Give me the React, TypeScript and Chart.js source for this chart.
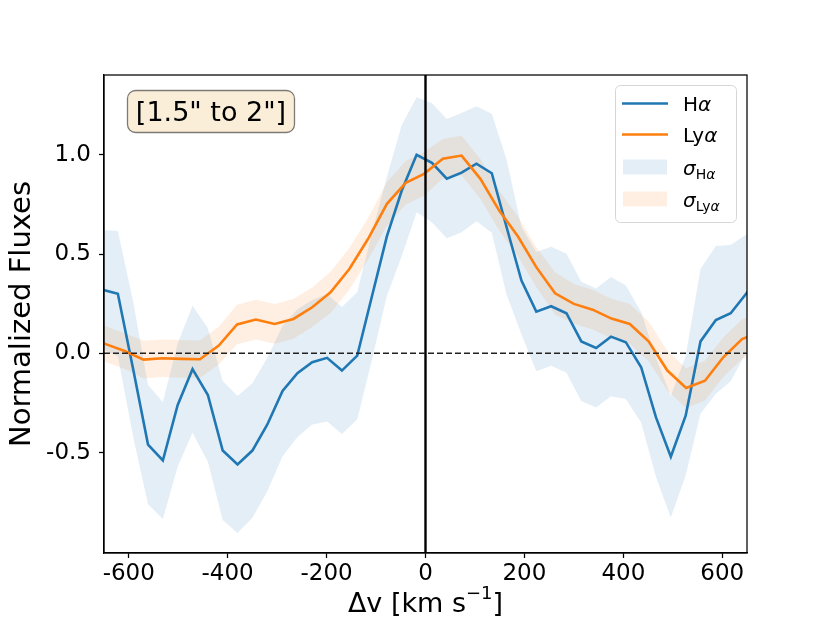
import { useEffect, useRef } from "react";
import { Chart, registerables } from "chart.js";

Chart.register(...registerables);

// H-alpha profile (velocity in km/s, normalized flux, 1-sigma)
const haVelocity = [-652, -622, -591, -561, -531, -501, -471, -440, -410, -380, -350, -320, -289, -259, -229, -199, -169, -138, -108, -78, -48, -18, 13, 43, 73, 103, 134, 164, 194, 224, 254, 285, 315, 345, 375, 405, 436, 466, 496, 526, 556, 587, 617, 647, 677];
const haFlux = [0.32, 0.3, -0.08, -0.46, -0.54, -0.26, -0.08, -0.21, -0.49, -0.56, -0.49, -0.36, -0.19, -0.1, -0.045, -0.023, -0.087, -0.012, 0.29, 0.59, 0.82, 1.0, 0.96, 0.88, 0.91, 0.955, 0.907, 0.635, 0.366, 0.21, 0.237, 0.202, 0.06, 0.027, 0.084, 0.056, -0.07, -0.323, -0.521, -0.314, 0.06, 0.168, 0.202, 0.296, 0.39];
const haSigma = [0.3, 0.316, 0.34, 0.3, 0.295, 0.31, 0.32, 0.336, 0.35, 0.345, 0.339, 0.336, 0.328, 0.322, 0.314, 0.32, 0.32, 0.32, 0.32, 0.3, 0.33, 0.29, 0.3, 0.3, 0.3, 0.29, 0.3, 0.34, 0.27, 0.3, 0.3, 0.3, 0.3, 0.3, 0.3, 0.286, 0.278, 0.3, 0.306, 0.3, 0.365, 0.372, 0.343, 0.3, 0.3];

// Lyman-alpha profile
const lyaVelocity = [-683, -645, -607, -570, -532, -494, -456, -418, -381, -343, -305, -267, -229, -192, -154, -116, -78, -40, -3, 35, 73, 111, 149, 187, 224, 262, 300, 338, 376, 413, 451, 489, 527, 565, 602, 640, 678];
const lyaFlux = [0.08, 0.045, 0.01, -0.032, -0.025, -0.028, -0.03, 0.039, 0.145, 0.17, 0.148, 0.173, 0.232, 0.307, 0.425, 0.577, 0.753, 0.859, 0.904, 0.98, 0.996, 0.879, 0.719, 0.588, 0.434, 0.302, 0.249, 0.22, 0.175, 0.148, 0.06, -0.087, -0.175, -0.138, -0.02, 0.072, 0.11];
const lyaSigma = [0.09, 0.09, 0.09, 0.095, 0.095, 0.095, 0.095, 0.095, 0.1, 0.1, 0.1, 0.1, 0.1, 0.104, 0.105, 0.105, 0.11, 0.11, 0.11, 0.1, 0.1, 0.1, 0.1, 0.1, 0.1, 0.106, 0.1, 0.1, 0.1, 0.1, 0.1, 0.1, 0.1, 0.1, 0.1, 0.1, 0.1];

const xTicks = [-600, -400, -200, 0, 200, 400, 600];
const yTicks = [-0.5, 0.0, 0.5, 1.0];
const xRange = [-650, 650];
const yRange = [-1.006, 1.402];
const apertureLabel = '[1.5" to 2"]';

const C0 = "#1f77b4";
const C1 = "#ff7f0e";
const C0_BAND = "rgba(31, 119, 180, 0.12)";
const C1_BAND = "rgba(255, 127, 14, 0.12)";
const FONT = '"DejaVu Sans", sans-serif';

type Run = { text: string; size: number; italic?: boolean; dy?: number };

function runsWidth(ctx: CanvasRenderingContext2D, runs: Run[]) {
  let w = 0;
  for (const r of runs) {
    ctx.font = `${r.italic ? "oblique " : ""}${r.size}px ${FONT}`;
    w += ctx.measureText(r.text).width;
  }
  return w;
}

function drawRuns(ctx: CanvasRenderingContext2D, runs: Run[], x: number, y: number) {
  let cx = x;
  for (const r of runs) {
    ctx.font = `${r.italic ? "oblique " : ""}${r.size}px ${FONT}`;
    ctx.fillText(r.text, cx, y + (r.dy || 0));
    cx += ctx.measureText(r.text).width;
  }
}

const overlayPlugin = {
  id: "overlay",
  afterDatasetsDraw(chart: Chart) {
    const { ctx, chartArea } = chart;
    const xs = chart.scales.x;
    const ys = chart.scales.y;
    ctx.save();
    // vertical line at zero velocity
    const x0 = xs.getPixelForValue(0);
    ctx.strokeStyle = "#000";
    ctx.lineWidth = 2.4;
    ctx.beginPath();
    ctx.moveTo(x0, chartArea.top);
    ctx.lineTo(x0, chartArea.bottom);
    ctx.stroke();
    // dashed zero flux
    const y0 = ys.getPixelForValue(0);
    ctx.strokeStyle = "#222";
    ctx.lineWidth = 1.5;
    ctx.setLineDash([6, 3]);
    ctx.beginPath();
    ctx.moveTo(chartArea.left, y0);
    ctx.lineTo(chartArea.right, y0);
    ctx.stroke();
    ctx.restore();
  },
  afterDraw(chart: Chart) {
    const { ctx, chartArea } = chart;
    ctx.save();
    // frame
    ctx.strokeStyle = "#000";
    ctx.lineWidth = 1.25;
    ctx.strokeRect(chartArea.left, chartArea.top, chartArea.right - chartArea.left, chartArea.bottom - chartArea.top);

    // x axis label with superscript
    ctx.fillStyle = "#000";
    ctx.textAlign = "left";
    ctx.textBaseline = "alphabetic";
    const xLabel: Run[] = [
      { text: "Δv [km s", size: 27 },
      { text: "−1", size: 18, dy: -13 },
      { text: "]", size: 27 },
    ];
    const cx = (chartArea.left + chartArea.right) / 2;
    drawRuns(ctx, xLabel, cx - runsWidth(ctx, xLabel) / 2, 612);

    // aperture box
    ctx.beginPath();
    ctx.roundRect(127.5, 90.5, 167, 42, 8);
    ctx.fillStyle = "rgba(245, 222, 179, 0.5)";
    ctx.fill();
    ctx.strokeStyle = "rgba(0, 0, 0, 0.5)";
    ctx.lineWidth = 1.3;
    ctx.stroke();
    ctx.fillStyle = "#000";
    ctx.font = `27px ${FONT}`;
    ctx.textAlign = "center";
    ctx.fillText(apertureLabel, 211, 121);

    // legend
    ctx.textAlign = "left";
    ctx.beginPath();
    ctx.roundRect(615.5, 85.5, 121, 137, 5);
    ctx.fillStyle = "rgba(255, 255, 255, 0.8)";
    ctx.fill();
    ctx.strokeStyle = "#d6d6d6";
    ctx.lineWidth = 1;
    ctx.stroke();

    ctx.lineWidth = 2.6;
    ctx.strokeStyle = C0;
    ctx.beginPath();
    ctx.moveTo(622, 103.5);
    ctx.lineTo(668, 103.5);
    ctx.stroke();
    ctx.strokeStyle = C1;
    ctx.beginPath();
    ctx.moveTo(622, 134.5);
    ctx.lineTo(668, 134.5);
    ctx.stroke();
    ctx.fillStyle = C0_BAND;
    ctx.fillRect(623, 159.5, 44, 15);
    ctx.fillStyle = C1_BAND;
    ctx.fillRect(623, 191.5, 44, 15);

    ctx.fillStyle = "#000";
    drawRuns(ctx, [{ text: "H", size: 20 }, { text: "α", size: 20, italic: true }], 683, 110.5);
    drawRuns(ctx, [{ text: "Ly", size: 20 }, { text: "α", size: 20, italic: true }], 683, 141.5);
    drawRuns(ctx, [
      { text: "σ", size: 20, italic: true },
      { text: "H", size: 14, dy: 3.5 },
      { text: "α", size: 14, italic: true, dy: 3.5 },
    ], 683, 175);
    drawRuns(ctx, [
      { text: "σ", size: 20, italic: true },
      { text: "Ly", size: 14, dy: 3.5 },
      { text: "α", size: 14, italic: true, dy: 3.5 },
    ], 683, 207);
    ctx.restore();
  },
};

export default function App() {
  const canvasRef = useRef<HTMLCanvasElement>(null);
  const chartRef = useRef<Chart | null>(null);

  useEffect(() => {
    if (!canvasRef.current) return;
    if (chartRef.current) chartRef.current.destroy();

    const haLine = haVelocity.map((v, i) => ({ x: v, y: haFlux[i] }));
    const haLow = haVelocity.map((v, i) => ({ x: v, y: haFlux[i] - haSigma[i] }));
    const haHigh = haVelocity.map((v, i) => ({ x: v, y: haFlux[i] + haSigma[i] }));
    const lyaLine = lyaVelocity.map((v, i) => ({ x: v, y: lyaFlux[i] }));
    const lyaLow = lyaVelocity.map((v, i) => ({ x: v, y: lyaFlux[i] - lyaSigma[i] }));
    const lyaHigh = lyaVelocity.map((v, i) => ({ x: v, y: lyaFlux[i] + lyaSigma[i] }));

    const none = "rgba(0,0,0,0)";
    const band = { borderColor: none, borderWidth: 0, pointRadius: 0, tension: 0 };

    chartRef.current = new Chart(canvasRef.current, {
      type: "line",
      data: {
        datasets: [
          { label: "Lyα", data: lyaLine, borderColor: C1, borderWidth: 2.6, pointRadius: 0, fill: false },
          { label: "Hα", data: haLine, borderColor: C0, borderWidth: 2.6, pointRadius: 0, fill: false },
          { label: "haLow", data: haLow, ...band, fill: false },
          { label: "σHα", data: haHigh, ...band, fill: "-1", backgroundColor: C0_BAND },
          { label: "lyaLow", data: lyaLow, ...band, fill: false },
          { label: "σLyα", data: lyaHigh, ...band, fill: "-1", backgroundColor: C1_BAND },
        ],
      },
      options: {
        responsive: true,
        maintainAspectRatio: false,
        animation: false,
        layout: { padding: { top: 75, right: 83, left: 0, bottom: 0 } },
        plugins: {
          legend: { display: false },
          tooltip: { enabled: false },
        },
        scales: {
          x: {
            type: "linear",
            min: xRange[0],
            max: xRange[1],
            afterBuildTicks: (s: any) => {
              s.ticks = xTicks.map((v) => ({ value: v }));
            },
            afterFit: (s: any) => {
              s.height = 70;
            },
            ticks: {
              autoSkip: false,
              maxRotation: 0,
              padding: 2,
              color: "#000",
              font: { family: FONT, size: 23 },
              callback: (v: any) => String(v),
            },
            grid: { drawOnChartArea: false, drawTicks: true, tickLength: 5, tickWidth: 1.25, tickColor: "#000" },
            border: { display: true, color: "#000", width: 1.25 },
            title: { display: false },
          },
          y: {
            type: "linear",
            min: yRange[0],
            max: yRange[1],
            afterBuildTicks: (s: any) => {
              s.ticks = yTicks.map((v) => ({ value: v }));
            },
            afterFit: (s: any) => {
              s.width = 104;
            },
            ticks: {
              autoSkip: false,
              padding: 8,
              color: "#000",
              font: { family: FONT, size: 23 },
              callback: (v: any) => Number(v).toFixed(1),
            },
            grid: { drawOnChartArea: false, drawTicks: true, tickLength: 5, tickWidth: 1.25, tickColor: "#000" },
            border: { display: true, color: "#000", width: 1.25 },
            title: {
              display: true,
              text: "Normalized Fluxes",
              color: "#000",
              font: { family: FONT, size: 29 },
              padding: { top: 5, bottom: 0 },
            },
          },
        },
      },
      plugins: [overlayPlugin],
    } as any);

    return () => {
      if (chartRef.current) {
        chartRef.current.destroy();
        chartRef.current = null;
      }
    };
  }, []);

  return (
    <div style={{ position: "absolute", left: 0, top: 0, width: 830, height: 623, background: "#fff" }}>
      <canvas ref={canvasRef}></canvas>
    </div>
  );
}
